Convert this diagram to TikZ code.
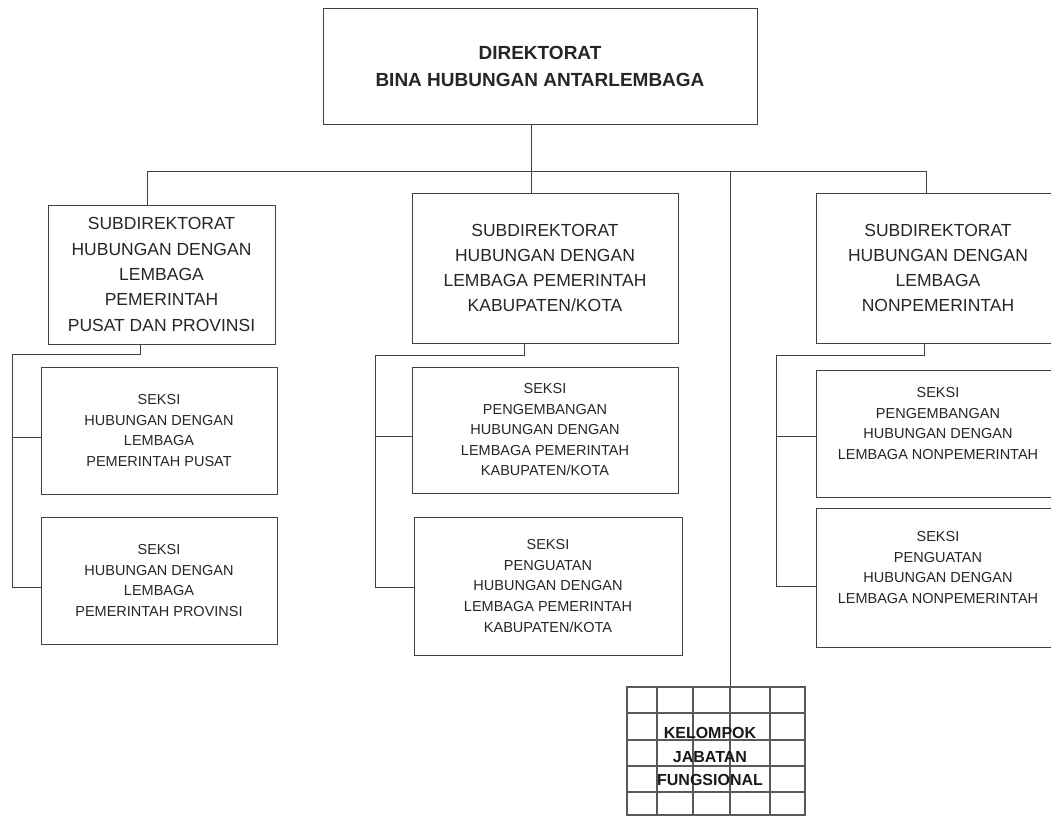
\documentclass[tikz,border=0pt]{standalone}
\usepackage{fontspec}
\setmainfont{Liberation Sans}
\begin{document}
\begin{tikzpicture}[x=1pt,y=-1pt,
  line/.style={draw=black!75,line width=1pt},
  box/.style={line,rectangle,inner sep=0pt,align=center,text=black!85},
  headfont/.style={font=\fontsize{19}{27}\selectfont\bfseries},
  subfont/.style={font=\fontsize{17.5}{25.3}\selectfont},
  secfont/.style={font=\fontsize{14.5}{20.5}\selectfont},
  jffont/.style={font=\fontsize{16}{23.5}\selectfont\bfseries,text=black!90,align=center,inner sep=0pt},
  gridline/.style={draw=black!65,line width=1.5pt}
]
\useasboundingbox (0,0) rectangle (1051,816);
\clip (0,0) rectangle (1051,816);

% director
\node[box,headfont,minimum width=434pt,minimum height=115pt] (dir) at (540,66.5)
  {DIREKTORAT\\BINA HUBUNGAN ANTARLEMBAGA};

% subdirectorates
\node[box,subfont,minimum width=227pt,minimum height=139pt] (sd1) at (161.5,274.5)
  {SUBDIREKTORAT\\HUBUNGAN DENGAN\\LEMBAGA\\PEMERINTAH\\PUSAT DAN PROVINSI};
\node[box,subfont,minimum width=266pt,minimum height=150pt] (sd2) at (545,268)
  {SUBDIREKTORAT\\HUBUNGAN DENGAN\\LEMBAGA PEMERINTAH\\KABUPATEN/KOTA};
\node[box,subfont,minimum width=244pt,minimum height=150pt] (sd3) at (938,268)
  {SUBDIREKTORAT\\HUBUNGAN DENGAN\\LEMBAGA\\NONPEMERINTAH};

% sections
\node[box,secfont,minimum width=236pt,minimum height=127pt] (s11) at (159,430.5)
  {SEKSI\\HUBUNGAN DENGAN\\LEMBAGA\\PEMERINTAH PUSAT};
\node[box,secfont,minimum width=236pt,minimum height=127pt] (s12) at (159,580.5)
  {SEKSI\\HUBUNGAN DENGAN\\LEMBAGA\\PEMERINTAH PROVINSI};
\node[box,secfont,minimum width=266pt,minimum height=126pt] (s21) at (545,430)
  {SEKSI\\PENGEMBANGAN\\HUBUNGAN DENGAN\\LEMBAGA PEMERINTAH\\KABUPATEN/KOTA};
\node[box,secfont,minimum width=268pt,minimum height=138pt] (s22) at (548,586)
  {SEKSI\\PENGUATAN\\HUBUNGAN DENGAN\\LEMBAGA PEMERINTAH\\KABUPATEN/KOTA};
\node[box,secfont,minimum width=244pt,minimum height=127pt] (s31) at (938,433.5)
  {SEKSI\\PENGEMBANGAN\\HUBUNGAN DENGAN\\LEMBAGA NONPEMERINTAH\\\mbox{}};
\node[box,secfont,minimum width=244pt,minimum height=139pt] (s32) at (938,577.5)
  {SEKSI\\PENGUATAN\\HUBUNGAN DENGAN\\LEMBAGA NONPEMERINTAH\\\mbox{}};

% functional group with its grid
\node[gridline,rectangle,inner sep=0pt,minimum width=178pt,minimum height=128pt] (jf) at (716,751) {};
\foreach \gx in {657,693,730,770} \draw[gridline] (\gx,687) -- (\gx,815);
\foreach \gy in {713,740,766,792} \draw[gridline] (627,\gy) -- (805,\gy);
\node[jffont] (jft) at (710,756.5) {KELOMPOK\\JABATAN\\FUNGSIONAL};

% main bus
\coordinate (busL) at (147,171);
\coordinate (busM) at (531,171);
\coordinate (busF) at (730,171);
\coordinate (busR) at (926,171);
\draw[line] (busL) -- (busR);
\draw[line] (busM) -- (busM |- dir.south);
\draw[line] (busL) -- (busL |- sd1.north);
\draw[line] (busM) -- (busM |- sd2.north);
\draw[line] (busR) -- (busR |- sd3.north);
\draw[line] (busF) -- (busF |- jf.north);

% left branch
\coordinate (t1) at (140,354);
\coordinate (r1) at (12,354);
\draw[line] (t1 |- sd1.south) -- (t1) -- (r1) |- ([yshift=-6.5pt]s12.west);
\draw[line] ([yshift=-6.5pt]s11.west) -- +(-29,0);

% middle branch
\coordinate (t2) at (524,355);
\coordinate (r2) at (375,355);
\draw[line] (t2 |- sd2.south) -- (t2) -- (r2) |- ([yshift=-1pt]s22.west);
\draw[line] ([yshift=-6pt]s21.west) -- +(-37,0);

% right branch
\coordinate (t3) at (924,355);
\coordinate (r3) at (776,355);
\draw[line] (t3 |- sd3.south) -- (t3) -- (r3) |- ([yshift=-8.5pt]s32.west);
\draw[line] ([yshift=-2.5pt]s31.west) -- +(-40,0);
\end{tikzpicture}
\end{document}
